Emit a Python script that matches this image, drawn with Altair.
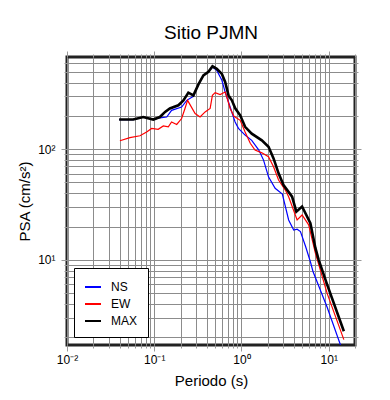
import altair as alt
import pandas as pd

# ---- data (Periodo in s, PSA in cm/s^2) ----
periodo_ns = [0.0396, 0.0574, 0.0748, 0.0975, 0.116, 0.139, 0.158, 0.206, 0.236, 0.281,
              0.321, 0.366, 0.418, 0.465, 0.521, 0.596, 0.650, 0.741, 0.845, 0.923,
              1.10, 1.31, 1.58, 1.79, 2.04, 2.43, 2.94, 3.47, 3.97, 4.34, 4.74, 5.43,
              6.16, 6.6, 9.59, 13.6, 15.0]
psa_ns = [185, 185, 195, 185, 192, 195, 224, 240, 276, 300,
          385, 464, 497, 551, 515, 419, 328, 240, 176, 154,
          134, 120, 98, 79.6, 56.2, 44.3, 39.3, 22.9, 18.6, 18.9, 18.0, 13.2,
          9.6, 7.85, 3.73, 1.71, 1.42]

periodo_ew = [0.0404, 0.0526, 0.0686, 0.0818, 0.0934, 0.111, 0.127, 0.145, 0.158, 0.181,
              0.206, 0.225, 0.241, 0.294, 0.335, 0.383, 0.437, 0.464, 0.499, 0.569,
              0.650, 0.679, 0.741, 0.82, 0.966, 1.10, 1.26, 1.43, 1.71, 2.04,
              2.33, 2.66, 3.18, 3.47, 4.34, 4.95, 5.89, 7.03, 9.59, 14.9]
psa_ew = [119, 127, 132, 143, 154, 151, 162, 159, 176, 167,
          189, 233, 276, 210, 195, 217, 233, 306, 324, 311,
          328, 296, 233, 198, 182, 143, 113, 98, 92.6, 85.3,
          69.3, 52.6, 42.7, 37.2, 22.9, 25.4, 20.7, 11.5, 4.97, 1.90]

periodo_max = [0.0396, 0.0574, 0.0748, 0.0975, 0.116, 0.133, 0.151, 0.189, 0.216, 0.246,
               0.281, 0.321, 0.366, 0.418, 0.465, 0.521, 0.596, 0.650, 0.710, 0.776,
               0.847, 0.966, 1.10, 1.31, 1.71, 2.04, 2.33, 2.66, 3.03, 3.80,
               4.25, 4.95, 6.16, 7.03, 7.67, 9.59, 14.9]
psa_max = [185, 185, 195, 185, 195, 217, 233, 249, 276, 324,
           306, 385, 464, 500, 560, 531, 478, 404, 306, 276,
           234, 202, 159, 138, 120, 105, 82.4, 60.4, 47.4, 37.2,
           27.2, 30.3, 21.4, 12.8, 10.0, 5.96, 2.26]

series = ["NS", "EW", "MAX"]
colores = ["#0000ff", "#ff0000", "#000000"]
grosores = [1.2, 1.2, 2.6]

x_grid = [k * 10.0 ** e for e in (-2, -1, 0, 1) for k in range(1, 10) if k * 10.0 ** e <= 20] + [20.0]
y_grid = [k * 10.0 ** e for e in (0, 1, 2) for k in range(1, 10) if 1.7 <= k * 10.0 ** e <= 680]

rows = []
for name, ts, vs in [("NS", periodo_ns, psa_ns), ("EW", periodo_ew, psa_ew), ("MAX", periodo_max, psa_max)]:
    for t, v in zip(ts, vs):
        rows.append({"serie": name, "periodo": t, "psa": v})
df = pd.DataFrame(rows)

FONT = "Liberation Sans"
is_major = "abs(log(datum.value)/LN10 - round(log(datum.value)/LN10)) < 1e-6"
ex = "round(log(datum.value)/LN10)"
label_expr = (f"({is_major}) ? ({ex}==-2 ? '10⁻²' : {ex}==-1 ? '10⁻¹' : {ex}==0 ? '10⁰' : "
              f"{ex}==1 ? '10¹' : {ex}==2 ? '10²' : '') : ''")
tick_size = {"condition": {"test": is_major, "value": 6}, "value": 3}

xscale = alt.Scale(type="log", domain=[0.01, 20], nice=False)
yscale = alt.Scale(type="log", domain=[1.7, 680], nice=False)

x_main = alt.X("periodo:Q", scale=xscale, title="Periodo (s)",
               axis=alt.Axis(values=x_grid, labelExpr=label_expr, labelOverlap=False, labelFlush=False,
                             grid=True, gridColor="#8c8c8c", gridWidth=1, domain=False,
                             tickColor="#999999", tickSize=tick_size, labelPadding=3,
                             titlePadding=8))
y_main = alt.Y("psa:Q", scale=yscale, title="PSA (cm/s²)",
               axis=alt.Axis(values=y_grid, labelExpr=label_expr, labelOverlap=False, labelFlush=False,
                             grid=True, gridColor="#8c8c8c", gridWidth=1, domain=False,
                             tickColor="#999999", tickSize=tick_size, labelPadding=6,
                             titlePadding=5))

color = alt.Color("serie:N",
                  scale=alt.Scale(domain=series, range=colores),
                  legend=alt.Legend(title=None, orient="none", legendX=7, legendY=211,
                                    direction="vertical", fillColor="white", strokeColor="black",
                                    padding=10, symbolType="stroke", symbolSize=256,
                                    symbolStrokeWidth=2, labelFontSize=12, labelFont=FONT,
                                    labelColor="black", labelOffset=9, rowPadding=2,
                                    labelExpr="datum.label + '\u00a0\u00a0\u00a0\u00a0\u00a0\u00a0\u00a0\u00a0'"))

base = alt.Chart(df)
layers = []
for name, w in zip(series, grosores):
    layers.append(
        base.transform_filter(alt.datum.serie == name)
        .mark_line(strokeWidth=w, clip=True)
        .encode(x=x_main, y=y_main, color=color)
    )

frame = base.mark_line(strokeOpacity=0, clip=True).encode(
    x=alt.X("periodo:Q", scale=xscale,
            axis=alt.Axis(orient="top", values=x_grid, labels=False, title=None, grid=False,
                          domain=False, tickColor="#999999", tickSize=tick_size)),
    y=alt.Y("psa:Q", scale=yscale,
            axis=alt.Axis(orient="right", values=y_grid, labels=False, title=None, grid=False,
                          domain=False, tickColor="#999999", tickSize=tick_size)),
    detail="serie:N",
)

main = alt.layer(*layers)
chart = (
    alt.layer(main, frame)
    .resolve_axis(x="independent", y="independent")
    .properties(
        width=288, height=288,
        autosize=alt.AutoSizeParams(type="none"),
        padding={"left": 59, "top": 49, "right": 27, "bottom": 50},
        title=alt.TitleParams("Sitio PJMN", fontSize=19, font=FONT, fontWeight="normal",
                              anchor="middle", frame="group", offset=8, color="black"),
    )
    .configure_axis(labelFont=FONT, labelFontSize=12, labelColor="black",
                    titleFont=FONT, titleFontSize=15, titleFontWeight="normal", titleColor="black")
    .configure_view(stroke="#222222", strokeWidth=3)
)

chart.save("out.html", embed_options={"renderer": "svg", "actions": False})
